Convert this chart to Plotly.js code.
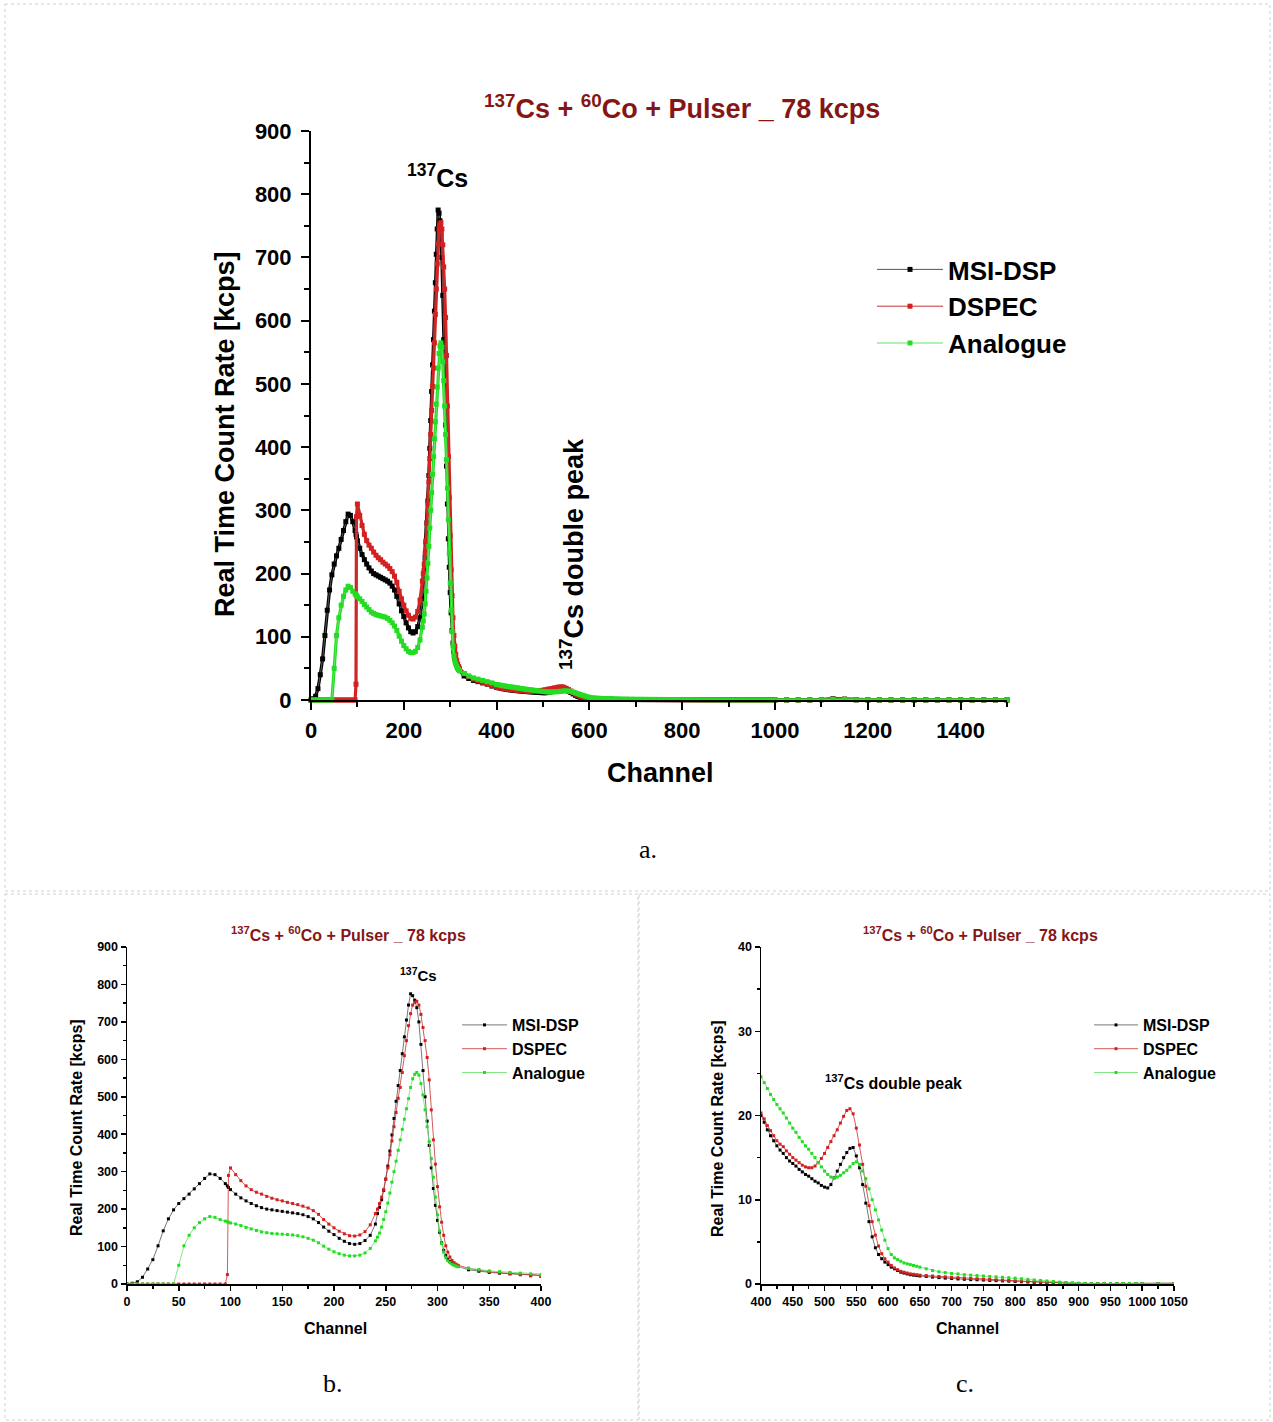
<!DOCTYPE html>
<html>
<head>
<meta charset="utf-8">
<script src="https://cdn.plot.ly/plotly-3.0.1.min.js"></script>
<style>html,body{margin:0;padding:0;background:#fff;}#chart{width:1273px;height:1422px;}</style>
</head>
<body>
<div id="chart"></div>
<script>
// ---- Data ----
const seriesNames = ['MSI-DSP', 'DSPEC', 'Analogue'];

const channels = [
  0,5,10,15,20,25,30,35,40,45,50,55,60,65,70,75,80,85,90,95,97,98,
  100,105,110,115,120,125,130,135,140,145,150,155,160,165,170,175,180,185,190,195,200,205,210,215,220,225,230,235,240,
  242,244,246,248,250,252,254,256,258,260,262,264,266,268,270,272,274,276,278,280,282,284,286,288,290,292,294,296,298,300,302,304,306,308,310,312,314,316,318,320,
  330,340,350,360,370,380,390,400,
  405,410,415,420,425,430,435,440,445,450,455,460,465,470,475,480,485,490,495,500,505,510,515,520,525,530,535,540,545,550,555,560,565,570,575,580,585,590,595,600,605,610,615,620,625,630,635,640,645,650,
  660,670,680,690,700,710,720,730,740,750,760,770,780,790,800,810,820,830,840,850,860,870,880,890,900,910,920,930,940,950,960,970,980,990,1000,
  1025,1050,1075,1100,1125,1150,1175,1200,1225,1250,1275,1300,1325,1350,1375,1400,1425,1450,1475,1500
];

const msiDsp = [
  0,2,6,18,40,65,102,142,174,198,215,228,240,254,268,282,294,292,282,268,262,258,
  252,240,230,222,215,209,204,200,198,196,194,192,190,188,185,180,174,164,152,141,132,122,114,108,106,108,116,130,160,
  188,205,225,250,280,315,355,398,442,488,530,570,615,660,705,745,775,770,758,738,700,640,570,500,435,370,310,255,210,170,138,110,90,76,66,60,56,52,49,47,
  38,34,31,29,27,25,22,20,
  19.2,18.3,17.6,17.0,16.4,15.9,15.5,15.0,14.6,14.3,
  14.0,13.6,13.3,13.0,12.8,12.5,12.2,12.0,11.7,11.5,
  11.4,11.8,12.6,13.4,14.2,15.0,15.6,16.1,16.2,15.2,
  13.8,11.8,9.6,7.4,5.6,4.3,3.5,3.0,2.6,2.3,
  2.0,1.8,1.6,1.4,1.3,1.2,1.1,1.05,1.0,0.95,
  0.9,0.82,0.76,0.7,0.65,0.6,0.56,0.52,0.5,0.47,
  0.43,0.4,0.37,0.34,0.3,0.27,0.24,0.2,0.17,0.15,
  0.12,0.1,0.08,0.07,0.06,0.05,0.05,0.05,0.05,0.05,
  0.05,0.05,0.05,0.05,0.05,
  0.05,0.05,0.1,0.6,2.0,1.4,0.3,0.1,0.05,0.05,0.05,0.05,0.05,0.05,0.05,0.05,0.05,0.05,0.05,0.05
];

const dspec = [
  0,0,0,0,0,0,0,0,0,0,0,0,0,0,0,0,0,0,0,0,25,290,
  310,292,276,262,252,245,240,234,229,225,222,218,215,212,208,203,196,186,172,160,150,141,134,129,128,131,140,158,188,
  200,215,232,252,280,310,345,382,420,458,496,525,565,610,650,690,722,745,752,755,745,720,685,650,605,545,465,385,320,260,206,165,130,102,85,72,63,57,53,50,
  42,37,33,30,28,25,23,20.3,
  19.6,18.8,18.2,17.6,17.0,16.6,16.3,15.8,15.4,15.0,
  14.7,14.4,14.1,13.9,13.8,13.8,14.0,14.4,14.9,15.5,
  16.2,16.9,17.6,18.3,19.1,19.9,20.6,20.8,20.2,18.5,
  16.5,14.2,11.6,9.3,7.4,5.8,4.5,3.6,3.0,2.6,
  2.2,1.9,1.7,1.5,1.4,1.3,1.2,1.15,1.1,1.05,
  1.0,0.95,0.9,0.85,0.8,0.75,0.7,0.66,0.62,0.58,
  0.54,0.5,0.46,0.42,0.38,0.34,0.3,0.26,0.22,0.19,
  0.16,0.13,0.11,0.09,0.07,0.05,0.05,0.05,0.05,0.05,
  0.05,0.05,0.05,0.05,0.05,
  0.05,0.05,0.1,0.5,1.6,1.1,0.3,0.1,0.05,0.05,0.05,0.05,0.05,0.05,0.05,0.05,0.05,0.05,0.05,0.05
];

const analogue = [
  0,0,0,0,0,0,0,0,0,0,50,102,130,150,164,174,180,178,172,168,166,165,
  163,160,156,151,147,143,139,137,135,134,133,132,131,129,126,122,117,110,101,93,86,81,77,75,75,77,83,95,115,
  125,136,152,172,193,216,243,272,300,328,357,385,413,440,468,495,525,548,560,565,558,535,505,465,420,380,335,285,232,185,142,108,85,70,62,57,53,50,48,46,
  42,38,35,33,31,29,27,24.6,
  23.9,23.2,22.5,21.9,21.3,20.8,20.3,19.7,19.1,18.5,
  18.0,17.4,16.9,16.4,16.0,15.5,15.0,14.4,13.9,13.4,
  13.0,12.7,12.6,12.7,12.9,13.2,13.5,13.9,14.3,14.5,
  14.2,13.4,12.5,11.3,10.0,8.8,7.6,6.4,5.2,4.2,
  3.5,3.1,2.9,2.7,2.5,2.4,2.3,2.2,2.1,2.0,
  1.8,1.6,1.45,1.35,1.25,1.2,1.1,1.05,1.0,0.95,
  0.9,0.85,0.8,0.75,0.7,0.62,0.55,0.48,0.42,0.36,
  0.3,0.22,0.16,0.12,0.09,0.07,0.05,0.05,0.05,0.05,
  0.05,0.05,0.05,0.05,0.05,
  0.05,0.05,0.1,0.4,1.2,0.9,0.3,0.1,0.05,0.05,0.05,0.05,0.05,0.05,0.05,0.05,0.05,0.05,0.05,0.05
];

[msiDsp, dspec, analogue].forEach((s, i) => {
  if (s.length !== channels.length) throw new Error(seriesNames[i] + ' length ' + s.length + ' vs ' + channels.length);
});

// ---- Styling ----
const W = 1273, H = 1422;
const px = v => v / W;
const py = v => 1 - v / H;
const FONT = 'Liberation Sans, Arial, sans-serif';
const TITLE_COLOR = '#861616';
const markerColors = ['#000000', '#d42020', '#22dd22'];
const lineColors = ['#555555', '#c83030', '#66e066'];
const seriesData = [msiDsp, dspec, analogue];

const panels = [
  {xa: 'x', ya: 'y', legend: 'legend', msize: 5, lw: 1, clip: false, band: 3.2},
  {xa: 'x2', ya: 'y2', legend: 'legend2', msize: 3, lw: 0.8, clip: true, band: 0},
  {xa: 'x3', ya: 'y3', legend: 'legend3', msize: 3, lw: 0.8, clip: true, band: 0}
];

const traces = [];
panels.forEach(p => {
  seriesNames.forEach((name, i) => {
    if (p.band > 0) {
      traces.push({
        type: 'scatter', mode: 'lines', name: name, showlegend: false,
        x: channels, y: seriesData[i], xaxis: p.xa, yaxis: p.ya, legend: p.legend,
        cliponaxis: p.clip, line: {color: markerColors[i], width: p.band}
      });
    }
    traces.push({
      type: 'scatter', mode: 'lines+markers', name: name,
      x: channels, y: seriesData[i], xaxis: p.xa, yaxis: p.ya, legend: p.legend,
      cliponaxis: p.clip,
      line: {color: lineColors[i], width: p.lw},
      marker: {color: markerColors[i], size: p.msize, symbol: 'square', line: {width: 0}}
    });
  });
});

function axis(opts) {
  return Object.assign({
    showline: true, linecolor: '#000', showgrid: false, zeroline: false,
    ticks: 'outside', tickcolor: '#000', automargin: false, fixedrange: true
  }, opts);
}
const tf = size => ({family: FONT, size: size, weight: 'bold', color: '#000'});

const big = 22, small = 12.5;
const layout = {
  width: W, height: H,
  margin: {l: 0, r: 0, t: 0, b: 0},
  paper_bgcolor: '#fff', plot_bgcolor: 'rgba(0,0,0,0)',
  font: {family: FONT, color: '#000'},
  xaxis: axis({domain: [px(311), px(1007)], anchor: 'y', range: [0, 1500], tick0: 0, dtick: 200,
    ticklen: 8, tickwidth: 2, linewidth: 2, tickfont: tf(big), ticklabelstandoff: 2,
    minor: {dtick: 100, ticklen: 5, tickwidth: 2, ticks: 'outside', tickcolor: '#000'}}),
  yaxis: axis({domain: [py(700), py(131)], anchor: 'x', range: [0, 900], tick0: 0, dtick: 100,
    ticklen: 8, tickwidth: 2, linewidth: 2, tickfont: tf(big), ticklabelstandoff: 5,
    minor: {dtick: 50, ticklen: 5, tickwidth: 2, ticks: 'outside', tickcolor: '#000'}}),
  xaxis2: axis({domain: [px(127), px(541)], anchor: 'y2', range: [0, 400], tick0: 0, dtick: 50,
    ticklen: 5, tickwidth: 1.5, linewidth: 1.5, tickfont: tf(small),
    minor: {dtick: 25, ticklen: 3, tickwidth: 1.5, ticks: 'outside', tickcolor: '#000'}}),
  yaxis2: axis({domain: [py(1284), py(947)], anchor: 'x2', range: [0, 900], tick0: 0, dtick: 100,
    ticklen: 5, tickwidth: 1.5, linewidth: 1.5, tickfont: tf(small),
    minor: {dtick: 50, ticklen: 3, tickwidth: 1.5, ticks: 'outside', tickcolor: '#000'}}),
  xaxis3: axis({domain: [px(761), px(1174)], anchor: 'y3', range: [400, 1050], tick0: 400, dtick: 50,
    ticklen: 5, tickwidth: 1.5, linewidth: 1.5, tickfont: tf(small),
    minor: {dtick: 25, ticklen: 3, tickwidth: 1.5, ticks: 'outside', tickcolor: '#000'}}),
  yaxis3: axis({domain: [py(1284), py(947)], anchor: 'x3', range: [0, 40], tick0: 0, dtick: 10,
    ticklen: 5, tickwidth: 1.5, linewidth: 1.5, tickfont: tf(small),
    minor: {dtick: 5, ticklen: 3, tickwidth: 1.5, ticks: 'outside', tickcolor: '#000'}}),
  legend: {x: px(872), y: py(246), xanchor: 'left', yanchor: 'top', bgcolor: 'rgba(0,0,0,0)',
    itemwidth: 66, font: tf(26)},
  legend2: {x: px(457), y: py(1008), xanchor: 'left', yanchor: 'top', bgcolor: 'rgba(0,0,0,0)',
    itemwidth: 45, font: tf(16)},
  legend3: {x: px(1089), y: py(1008), xanchor: 'left', yanchor: 'top', bgcolor: 'rgba(0,0,0,0)',
    itemwidth: 44, font: tf(16)},
  shapes: [
    {type: 'rect', xref: 'paper', yref: 'paper', x0: px(5), x1: px(1270), y0: py(4), y1: py(891),
      line: {color: '#d0d0d0', width: 1, dash: 'dot'}},
    {type: 'rect', xref: 'paper', yref: 'paper', x0: px(5), x1: px(638), y0: py(894), y1: py(1420),
      line: {color: '#d0d0d0', width: 1, dash: 'dot'}},
    {type: 'rect', xref: 'paper', yref: 'paper', x0: px(639), x1: px(1270), y0: py(894), y1: py(1420),
      line: {color: '#d0d0d0', width: 1, dash: 'dot'}}
  ],
  showlegend: true
};

const titleText = '<sup>137</sup>Cs + <sup>60</sup>Co + Pulser _ 78 kcps';
function ann(text, x, y, size, opts) {
  return Object.assign({
    text: text, xref: 'paper', yref: 'paper', x: px(x), y: py(y), xanchor: 'center', yanchor: 'middle',
    showarrow: false, font: tf(size)
  }, opts || {});
}
const serif = 'Liberation Serif, Times New Roman, serif';
const titleFont = size => ({family: FONT, size: size, color: TITLE_COLOR, weight: 'bold'});
layout.annotations = [
  // panel a
  ann(titleText, 682, 107, 27, {font: titleFont(27)}),
  ann('<sup>137</sup>Cs', 437, 176, 25),
  ann('<sup>137</sup>Cs double peak', 572, 554, 27, {textangle: -90}),
  ann('Channel', 660, 773, 27),
  ann('Real Time Count Rate [kcps]', 225, 434, 27, {textangle: -90}),
  ann('a.', 648, 850, 26, {font: {family: serif, size: 26, color: '#000'}}),
  // panel b
  ann(titleText, 348, 934, 16, {font: titleFont(16)}),
  ann('<sup>137</sup>Cs', 418, 975, 15),
  ann('Channel', 335, 1328, 16),
  ann('Real Time Count Rate [kcps]', 76, 1128, 16, {textangle: -90}),
  ann('b.', 333, 1383, 26, {font: {family: serif, size: 26, color: '#000'}}),
  // panel c
  ann(titleText, 981, 934, 16, {font: titleFont(16)}),
  ann('<sup>137</sup>Cs double peak', 893, 1082, 16),
  ann('Channel', 968, 1328, 16),
  ann('Real Time Count Rate [kcps]', 717, 1128, 16, {textangle: -90}),
  ann('c.', 965, 1383, 26, {font: {family: serif, size: 26, color: '#000'}})
];

Plotly.newPlot('chart', traces, layout, {staticPlot: true, displayModeBar: false});
</script>
</body>
</html>
